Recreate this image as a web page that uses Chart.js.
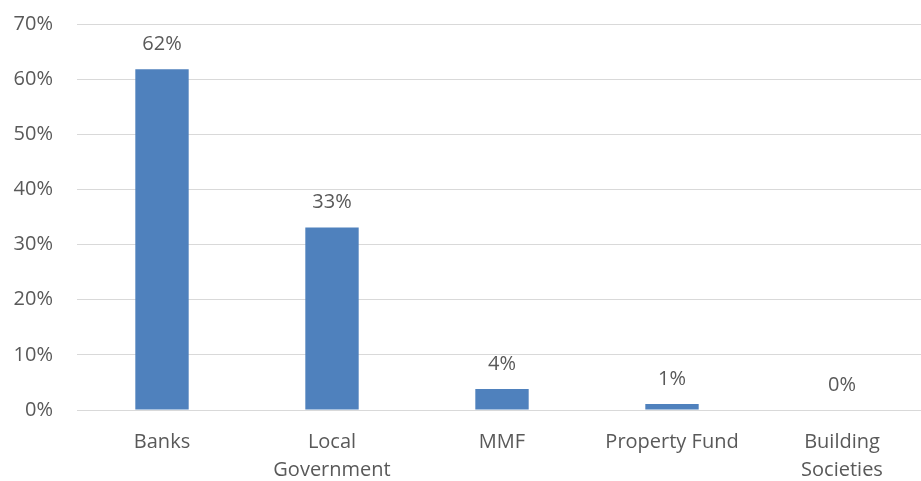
<!DOCTYPE html>
<html>
<head>
<meta charset="utf-8">
<script src="https://cdn.jsdelivr.net/npm/chart.js@4"></script>
<style>
html,body{margin:0;padding:0;background:#fff;overflow:hidden;}
#wrap{width:927px;height:481px;position:relative;}
</style>
</head>
<body>
<div id="wrap"><canvas id="c"></canvas></div>
<script>
const categories = [['Banks'], ['Local', 'Government'], ['MMF'], ['Property Fund'], ['Building', 'Societies']];
const values = [61.8, 33.1, 3.8, 1.1, 0];
const yTicks = [0, 10, 20, 30, 40, 50, 60, 70];

const textColor = '#595959';
const fontFamily = '"Open Sans", sans-serif';

const valueLabels = {
  id: 'valueLabels',
  afterDatasetsDraw(chart) {
    const ctx = chart.ctx;
    const meta = chart.getDatasetMeta(0);
    ctx.save();
    ctx.font = '20px ' + fontFamily;
    ctx.fillStyle = textColor;
    ctx.textAlign = 'center';
    ctx.textBaseline = 'middle';
    meta.data.forEach((bar, i) => {
      ctx.fillText(Math.round(values[i]) + '%', bar.x, bar.y - 25);
    });
    ctx.restore();
  }
};

new Chart(document.getElementById('c'), {
  type: 'bar',
  data: {
    labels: categories,
    datasets: [{
      data: values,
      backgroundColor: '#4F81BD',
      borderWidth: 0,
      barPercentage: 1,
      categoryPercentage: 0.314
    }]
  },
  options: {
    responsive: true,
    maintainAspectRatio: false,
    animation: false,
    layout: { padding: { top: 24, right: 0, bottom: 0, left: 0 } },
    plugins: { legend: { display: false }, tooltip: { enabled: false } },
    scales: {
      x: {
        grid: { display: false },
        border: { display: true, color: '#D9D9D9', width: 1 },
        ticks: {
          color: textColor,
          font: { family: fontFamily, size: 20, lineHeight: 1.4 },
          padding: 10,
          maxRotation: 0,
          autoSkip: false
        },
        afterFit(scale) { scale.height = 71; }
      },
      y: {
        min: 0,
        max: 70,
        afterBuildTicks(scale) { scale.ticks = yTicks.map(v => ({ value: v })); },
        grid: { color: '#D9D9D9', lineWidth: 1, drawTicks: false },
        border: { display: false },
        ticks: {
          color: textColor,
          font: { family: fontFamily, size: 20 },
          padding: 24,
          callback: v => v + '%'
        },
        afterFit(scale) { scale.width = 77; scale.paddingTop = 0; scale.paddingBottom = 0; }
      }
    }
  },
  plugins: [valueLabels]
});
</script>
</body>
</html>
